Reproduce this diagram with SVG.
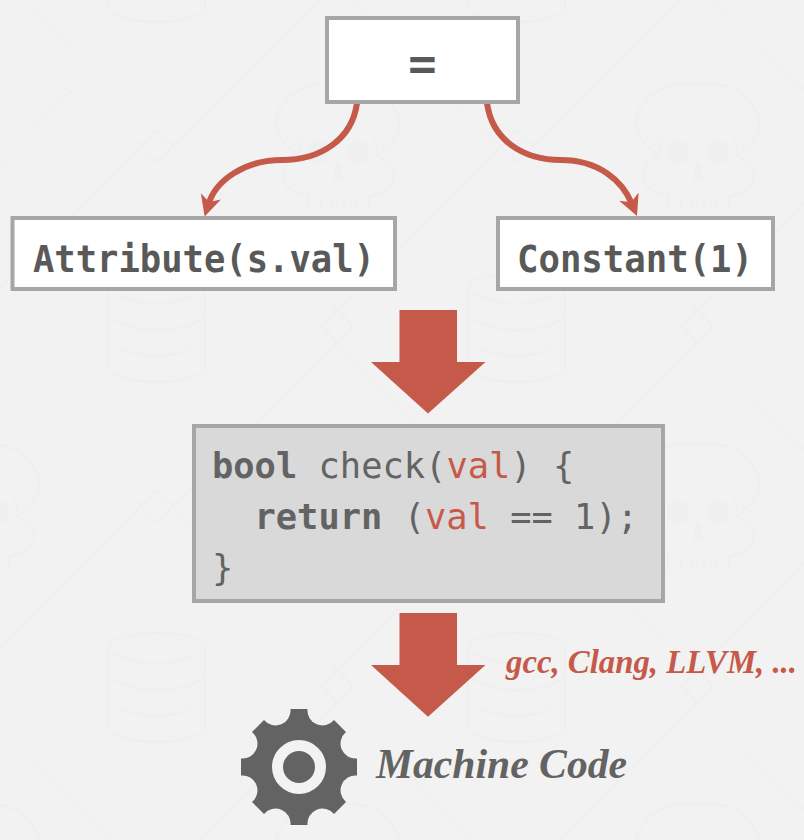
<svg xmlns="http://www.w3.org/2000/svg" xmlns:xlink="http://www.w3.org/1999/xlink" width="804" height="840" viewBox="0 0 804 840">
<style>
.bgl{fill:none;stroke:#efefef;stroke-width:2}
.bgf{fill:#efefef}
.box{fill:#fff;stroke:#a6a6a6;stroke-width:4}
.code{fill:#d9d9d9;stroke:#a6a6a6;stroke-width:4}
.lbl{font-family:"DejaVu Sans Mono","Liberation Mono",monospace;font-size:36.5px;font-weight:bold;fill:#595959}
.src{font-family:"DejaVu Sans Mono","Liberation Mono",monospace;font-size:35.4px;fill:#636363}
.src .k{font-weight:bold}
.src .v{fill:#c55a4a}
.ital{font-family:"Liberation Serif",serif;font-style:italic;font-weight:bold}
.edge{fill:none;stroke:#c55a4a;stroke-width:6}
.big{fill:#c55a4a}
</style>
<defs>
<marker id="head" markerUnits="userSpaceOnUse" markerWidth="26" markerHeight="26" refX="8" refY="13" orient="auto">
<path d="M0,2.5 L21,13 L0,23.5 L6,13 Z" fill="#c55a4a"/>
</marker>
<g id="lattice">
<path class="bgl" d="M157,130 L173,146 L157,162 L141,146 Z M173,146 L337,310 M173,146 L337,-18 M141,146 L-23,-18 M141,146 L-23,310"/>
<path class="bgl" d="M337,310 L353,326 L337,342 L321,326 Z"/>
</g>
<g id="db">
<path class="bgl" d="M108,288 C108,280 130,273 157,273 C184,273 205,280 205,288 V367 C205,375 184,382 157,382 C130,382 108,375 108,367 Z M113,292 C125,300 145,304 157,304 C170,304 180,302 190,297 M108,316 C120,326 140,330 157,330 C175,330 195,326 205,316 M122,349 C135,354 148,356 157,356 C170,356 182,353 192,347"/>
</g>
<g id="skull">
<path class="bgl" d="M300,156 C284,146 276,132 276,126 C276,100 300,84 325,84 H351 C376,84 399,100 399,126 C399,132 392,146 376,156 C392,160 394,168 394,175 C394,188 380,195 369,196 V208 H308 V196 C297,195 283,188 283,175 C283,168 285,160 300,156 Z M303,138 C299,143 298,150 298,158 M373,138 C377,143 378,150 378,158 M321,199 V208 M333,199 V208 M344,199 V208 M356,199 V208"/>
<circle class="bgf" cx="318" cy="152" r="11"/>
<circle class="bgf" cx="358" cy="152" r="11"/>
<path class="bgf" d="M336,162 H340 L343,180 H333 Z"/>
</g>
<clipPath id="seam"><path d="M72,-10 H820 V850 H-10 V287 L72,215 Z M-10,250 H72 V230 H-10 Z"/></clipPath>
</defs>
<rect width="804" height="840" fill="#f2f2f2"/>
<g id="background">
<g clip-path="url(#seam)">
<use xlink:href="#lattice" x="-360" y="-360"/><use xlink:href="#lattice" x="0" y="-360"/><use xlink:href="#lattice" x="360" y="-360"/><use xlink:href="#lattice" x="720" y="-360"/>
<use xlink:href="#lattice" x="-360" y="0"/><use xlink:href="#lattice" x="0" y="0"/><use xlink:href="#lattice" x="360" y="0"/><use xlink:href="#lattice" x="720" y="0"/>
<use xlink:href="#lattice" x="-360" y="360"/><use xlink:href="#lattice" x="0" y="360"/><use xlink:href="#lattice" x="360" y="360"/><use xlink:href="#lattice" x="720" y="360"/>
<use xlink:href="#lattice" x="-360" y="720"/><use xlink:href="#lattice" x="0" y="720"/><use xlink:href="#lattice" x="360" y="720"/><use xlink:href="#lattice" x="720" y="720"/>
</g>
<path class="bgl" d="M20,0 L72,50 M72,90 L0,165"/>
<use xlink:href="#db" x="0" y="-360"/><use xlink:href="#db" x="360" y="-360"/>
<use xlink:href="#db" x="0" y="0"/><use xlink:href="#db" x="360" y="0"/>
<use xlink:href="#db" x="0" y="360"/><use xlink:href="#db" x="360" y="360"/>
<use xlink:href="#skull" x="0" y="0"/><use xlink:href="#skull" x="360" y="0"/>
<use xlink:href="#skull" x="-360" y="360"/><use xlink:href="#skull" x="360" y="360"/>
<use xlink:href="#skull" x="-360" y="720"/><use xlink:href="#skull" x="0" y="720"/><use xlink:href="#skull" x="360" y="720"/>
</g>
<g id="connectors">
<path class="edge" marker-end="url(#head)" d="M357,103 C352,140 320,160 282,160 C245,160 216,180 208.5,204"/>
<path class="edge" marker-end="url(#head)" d="M487,103 C492,140 523,160 561,160 C598,160 622,180 632,204"/>
<polygon class="big" points="399.5,310 457,310 457,362 485.5,362 428,413.5 371,362 399.5,362"/>
<polygon class="big" points="399.5,613 457,613 457,665 485.5,665 428,716.7 371,665 399.5,665"/>
</g>
<g id="node-eq">
<rect class="box" x="327" y="18" width="191" height="84"/>
<text class="lbl" x="422.5" y="80" text-anchor="middle" style="font-size:47px">=</text>
</g>
<g id="node-attribute">
<rect class="box" x="12.5" y="218" width="382.5" height="71"/>
<text class="lbl" x="33" y="272" textLength="342" lengthAdjust="spacingAndGlyphs">Attribute(s.val)</text>
</g>
<g id="node-constant">
<rect class="box" x="498" y="218" width="275" height="71"/>
<text class="lbl" x="517" y="272" textLength="236" lengthAdjust="spacingAndGlyphs">Constant(1)</text>
</g>
<g id="node-code">
<rect class="code" x="194" y="426" width="469" height="175"/>
<text class="src" x="212" y="478" xml:space="preserve"><tspan class="k">bool</tspan> check(<tspan class="v">val</tspan>) {</text>
<text class="src" x="254.5" y="529" xml:space="preserve"><tspan class="k">return</tspan> (<tspan class="v">val</tspan> == 1);</text>
<text class="src" x="212" y="580">}</text>
</g>
<text id="label-compilers" class="ital" x="506" y="673" font-size="34" fill="#c55a4a" textLength="291" lengthAdjust="spacingAndGlyphs">gcc, Clang, LLVM, ...</text>
<g id="node-machine">
<path fill="#636363" transform="translate(299,767)" d="M-8.5,-58 H8.5 A15,15 0 0 0 35,-47 L47,-35 A15,15 0 0 0 58,-8.5 V8.5 A15,15 0 0 0 47,35 L35,47 A15,15 0 0 0 8.5,58 H-8.5 A15,15 0 0 0 -35,47 L-47,35 A15,15 0 0 0 -58,8.5 V-8.5 A15,15 0 0 0 -47,-35 L-35,-47 A15,15 0 0 0 -8.5,-58 Z"/>
<circle cx="299" cy="767" r="21.5" fill="none" stroke="#f2f2f2" stroke-width="11"/>
<text class="ital" x="376" y="778" font-size="42" fill="#636363" textLength="251" lengthAdjust="spacingAndGlyphs">Machine Code</text>
</g>
</svg>
